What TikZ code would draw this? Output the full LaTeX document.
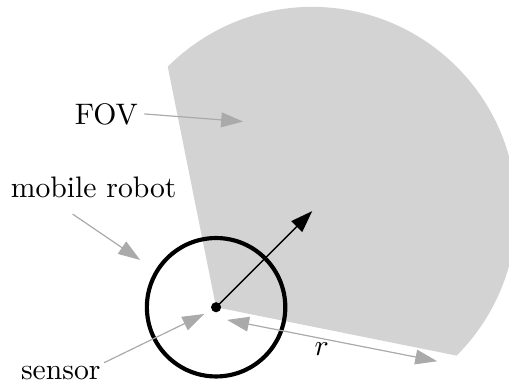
\documentclass[tikz,border=0pt]{standalone}
\usetikzlibrary{positioning,arrows.meta,calc}
\definecolor{fovgray} {HTML}{D3D3D3}
\definecolor{callout} {HTML}{AAAAAA}
\tikzset{
  lbl/.style     = {inner sep=1pt},
  pointer/.style = {-{Triangle[length=2.6mm, width=1.75mm]}, draw=callout, fill=callout, line width=0.4pt},
  heading/.style = {-{Triangle[length=2.6mm, width=1.8mm]}, draw=black, line width=0.5pt},
  robot/.style   = {draw=black, line width=1.4pt},
}

\begin{document}
\begin{tikzpicture}
  \useasboundingbox (-2.56,-0.96) rectangle (3.47,3.64);

  \coordinate (sensor) at (0,0);
  \coordinate (head) at (45:1.61);

  % field of view
  \fill[fovgray] (sensor) -- ($(head)+(135:2.42)$)
    arc[start angle=135, end angle=-45, radius=2.42] -- cycle;

  % robot and sensor
  \draw[robot] (sensor) circle[radius=0.82];
  \draw[heading] (sensor) -- (head);
  \fill[black] (sensor) circle[radius=0.06];

  % labels
  \node[lbl] (fovlbl) at (-1.30,2.29) {FOV};
  \node[lbl] (mrlbl) at (-1.45,1.42) {mobile robot};
  \node[lbl] (snslbl) at (-1.84,-0.78) {sensor};
  \node[lbl] (rlbl) at (1.25,-0.50) {$r$};

  \coordinate (fovtip) at (0.32,2.20);
  \coordinate (robottip) at (-0.90,0.56);
  \coordinate (snstip) at (-0.14,-0.08);
  \coordinate (rstart) at (0.13,-0.15);
  \coordinate (rend) at (2.62,-0.64);

  \draw[pointer] ([xshift=1pt]fovlbl.east) -- (fovtip);
  \draw[pointer] ([shift={(-0.25,-0.15)}]mrlbl.south) -- (robottip);
  \draw[pointer] (snslbl.north east) -- (snstip);
  \draw[pointer, {Triangle[length=2.6mm, width=1.75mm]}-{Triangle[length=2.6mm, width=1.75mm]}] (rstart) -- (rend);
\end{tikzpicture}
\end{document}
